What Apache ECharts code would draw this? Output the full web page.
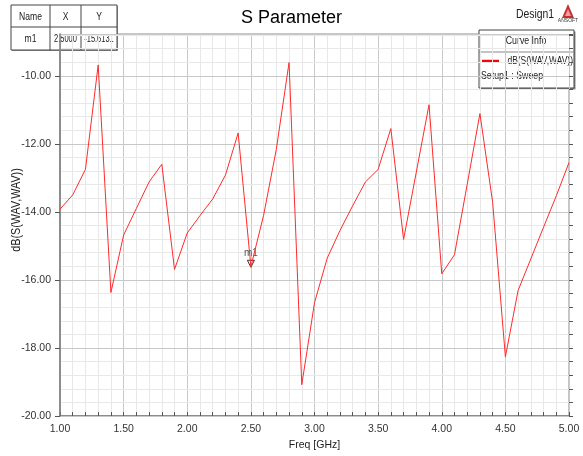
<!DOCTYPE html>
<html>
<head>
<meta charset="utf-8">
<script src="https://cdn.jsdelivr.net/npm/echarts@6/dist/echarts.min.js"></script>
<style>html,body{margin:0;padding:0;background:#fff}#c{width:583px;height:456px}</style>
</head>
<body>
<div id="c"></div>
<script>
var freq = [1.0,1.1,1.2,1.3,1.4,1.5,1.6,1.7,1.8,1.9,2.0,2.1,2.2,2.3,2.4,2.5,2.6,2.7,2.8,2.9,3.0,3.1,3.2,3.3,3.4,3.5,3.6,3.7,3.8,3.9,4.0,4.1,4.2,4.3,4.4,4.5,4.6,4.7,4.8,4.9,5.0];
var dB = [-13.92,-13.50,-12.75,-9.68,-16.37,-14.68,-13.90,-13.12,-12.60,-15.69,-14.62,-14.11,-13.62,-12.92,-11.68,-15.61,-14.10,-12.16,-9.61,-19.08,-16.67,-15.36,-14.55,-13.82,-13.12,-12.75,-11.55,-14.81,-12.83,-10.85,-15.82,-15.26,-13.19,-11.11,-13.72,-18.26,-16.31,-15.38,-14.45,-13.53,-12.55];
var xTicks = ['1.00','1.50','2.00','2.50','3.00','3.50','4.00','4.50','5.00'];
var yTicks = ['-20.00','-18.00','-16.00','-14.00','-12.00','-10.00'];
var markerName = 'm1', markerX = 2.5, markerY = -15.6131;
var seriesName = 'dB(S(WAV,WAV))';

var FF = "'Liberation Sans',Arial,sans-serif";
var chart = echarts.init(document.getElementById('c'));
var pts = freq.map(function(f,i){return [f,dB[i]];});
var YMAX = -8.77;
function T(x,y,text,size,align,sx,extra){
  var o={type:'text',x:x,y:y,scaleX:sx||0.8,style:{text:text,fontFamily:FF,fontSize:size,fill:'#222',textAlign:align||'center',textVerticalAlign:'middle'}};
  if(extra){for(var k in extra)o[k]=extra[k];}
  return o;
}
chart.setOption({
  animation:false,
  title:{text:'S Parameter',left:'center',top:4,textStyle:{fontFamily:FF,fontSize:18,fontWeight:'normal',color:'#000'}},
  grid:{left:60,right:14,top:34,bottom:38,show:true,borderColor:'#8a8a8a',borderWidth:1},
  xAxis:{type:'value',min:1,max:5,interval:0.5,
    name:'Freq [GHz]',nameLocation:'middle',nameGap:24,nameTextStyle:{fontFamily:FF,fontSize:10.5,color:'#222'},
    axisLine:{lineStyle:{color:'#7a7a7a',width:1.5}},
    axisTick:{inside:true,length:4,lineStyle:{color:'#555'}},
    minorTick:{show:true,splitNumber:5,length:4,lineStyle:{color:'#555'}},
    axisLabel:{margin:8,fontFamily:FF,fontSize:10.5,color:'#333',formatter:function(v){var s=v.toFixed(2);return xTicks.indexOf(s)>=0?s:'';}},
    splitLine:{show:true,lineStyle:{color:'#c8c8c8',width:1}},
    minorSplitLine:{show:true,lineStyle:{color:'#e8e8e8',width:1}}
  },
  yAxis:[{type:'value',min:-20,max:YMAX,interval:2,z:2,
    axisLine:{show:true,lineStyle:{color:'#7a7a7a',width:1.5}},
    axisTick:{show:true,length:5,lineStyle:{color:'#555'}},
    axisLabel:{margin:9,showMaxLabel:false,fontFamily:FF,fontSize:10.5,color:'#333',formatter:function(v){var s=v.toFixed(2);return yTicks.indexOf(s)>=0?s:'';}},
    splitLine:{show:true,lineStyle:{color:'#c8c8c8',width:1}}
  },{type:'value',min:-20,max:YMAX,interval:0.4,z:1,
    axisLine:{show:false},
    axisTick:{show:true,length:4,lineStyle:{color:'#555'}},
    axisLabel:{show:false},
    splitLine:{show:true,lineStyle:{color:'#e8e8e8',width:1}}
  }],
  series:[{type:'line',name:seriesName,data:pts,showSymbol:false,symbol:'none',
    lineStyle:{color:'#ff2a2a',width:1},z:5,
    markPoint:{symbol:'triangle',symbolSize:[7,7],symbolRotate:180,symbolOffset:[0,-3],
      itemStyle:{color:'#fff',borderColor:'#333',borderWidth:1},
      label:{show:true,position:'top',distance:2,formatter:markerName,fontFamily:FF,fontSize:10,color:'#555'},
      data:[{coord:[markerX,markerY]}]}
  }],
  graphic:[
    T(17,210,seriesName,12,'center',0.9,{rotation:Math.PI/2}),
    {type:'group',x:11,y:5,z:100,children:[
      {type:'rect',shape:{x:1,y:1,width:106,height:45},style:{fill:'#999'}},
      {type:'rect',shape:{x:0,y:0,width:106,height:45},style:{fill:'#fff',stroke:'#444',lineWidth:1}},
      {type:'line',shape:{x1:0,y1:22,x2:106,y2:22},style:{stroke:'#444',lineWidth:1}},
      {type:'line',shape:{x1:39,y1:0,x2:39,y2:45},style:{stroke:'#444',lineWidth:1}},
      {type:'line',shape:{x1:70,y1:0,x2:70,y2:45},style:{stroke:'#444',lineWidth:1}},
      T(19.5,11.5,'Name',11,'center',0.78),
      T(54.5,11.5,'X',11,'center',0.78),
      T(88,11.5,'Y',11,'center',0.78),
      T(19.5,34,markerName,11,'center',0.78),
      T(54.5,34,markerX.toFixed(4),11,'center',0.68),
      T(88,34,markerY.toFixed(4),11,'center',0.68)
    ]},
    T(535,14,'Design1',13,'center',0.8,{z:100}),
    {type:'group',x:568,y:4,z:100,children:[
      {type:'polygon',shape:{points:[[0,0],[-6,14],[6,14]]},style:{fill:'#c83030'}},
      {type:'polygon',shape:{points:[[0,5],[-3,12],[3,12]]},style:{fill:'#f0a0a0'}},
      {type:'text',x:0,y:17,style:{text:'ANSOFT',fontFamily:FF,fontSize:5,fill:'#333',textAlign:'center',textVerticalAlign:'middle'}}
    ]},
    {type:'group',x:479,y:30,z:100,children:[
      {type:'rect',shape:{x:1.5,y:1.5,width:95,height:58},style:{fill:'#888'}},
      {type:'rect',shape:{x:0,y:0,width:95,height:58},style:{fill:'#fff',stroke:'#444',lineWidth:1}},
      {type:'line',shape:{x1:0,y1:22,x2:95,y2:22},style:{stroke:'#888',lineWidth:1}},
      T(47,11,'Curve Info',11,'center',0.8),
      {type:'line',shape:{x1:3,y1:31,x2:20,y2:31},style:{stroke:'#ff0000',lineWidth:2.5}},
      T(94,31,seriesName,11,'right',0.77),
      T(2,46,'Setup1 : Sweep',11,'left',0.8)
    ]}
  ]
});
</script>
</body>
</html>
